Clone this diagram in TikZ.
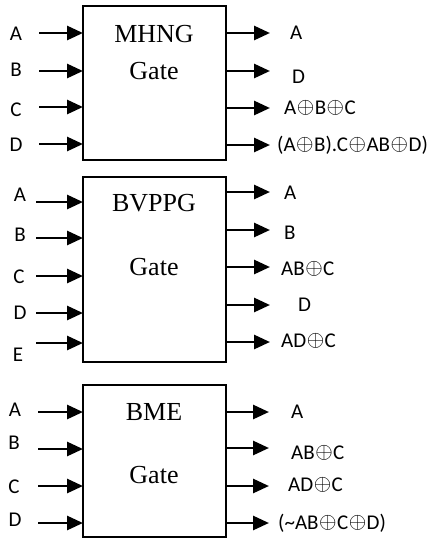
\documentclass[tikz,border=0pt]{standalone}
\usepackage{fontspec}
\usepackage{graphicx}
\usetikzlibrary{arrows.meta,positioning}
\newfontfamily\lblfont{Carlito}
\newfontfamily\ttlfont{Liberation Serif}
\newcommand{\xo}{\kern0.5pt\raisebox{1pt}{\fontsize{17.28}{17.28}\selectfont\scalebox{1.3}{$\oplus$}}\kern0.5pt}

\begin{document}
\begin{tikzpicture}[x=1pt, y=-1pt,
    gate/.style={rectangle, draw, line width=1.8pt, minimum width=143pt, inner sep=0pt, outer sep=0pt},
    title/.style={font=\ttlfont\fontsize{26}{26}\selectfont, inner sep=0pt},
    lbl/.style={font=\lblfont\fontsize{21}{21}\selectfont, inner sep=0pt, text height=13pt, text depth=0pt},
    olbl/.style={lbl, anchor=west},
    arr/.style={line width=2.8pt, -{Triangle[length=16pt,width=14pt]}}
]
    \useasboundingbox (0,0) rectangle (439,539);

    % MHNG gate
    \node[gate, minimum height=154pt] (g1) at (154.5,83) {};
    \node[title] (g1t) at (154,34) {MHNG};
    \node[title] (g1s) at (154,71) {Gate};

    \node[lbl] (g1a) at (16,34) {A};
    \node[lbl] (g1b) at (16,70) {B};
    \node[lbl] (g1c) at (16,110) {C};
    \node[lbl] (g1d) at (16,145) {D};
    \coordinate (g1i1) at (39,33);
    \coordinate (g1i2) at (39,71);
    \coordinate (g1i3) at (39,107);
    \coordinate (g1i4) at (39,144);
    \draw[arr] (g1i1) -- (g1i1 -| g1.west);
    \draw[arr] (g1i2) -- (g1i2 -| g1.west);
    \draw[arr] (g1i3) -- (g1i3 -| g1.west);
    \draw[arr] (g1i4) -- (g1i4 -| g1.west);

    \coordinate (g1o1) at (270,33);
    \coordinate (g1o2) at (270,71);
    \coordinate (g1o3) at (270,108);
    \coordinate (g1o4) at (270,145);
    \draw[arr] (g1o1 -| g1.east) -- (g1o1);
    \draw[arr] (g1o2 -| g1.east) -- (g1o2);
    \draw[arr] (g1o3 -| g1.east) -- (g1o3);
    \draw[arr] (g1o4 -| g1.east) -- (g1o4);
    \node[olbl] (g1y1) at (290,33) {A};
    \node[olbl] (g1y2) at (292,77) {D};
    \node[olbl] (g1y3) at (284,108) {A\xo B\xo C};
    \node[olbl] (g1y4) at (277,145) {(A\xo B).C\xo AB\xo D)};

    % BVPPG gate
    \node[gate, minimum height=185pt] (g2) at (154.5,269.5) {};
    \node[title] (g2t) at (154,203) {BVPPG};
    \node[title] (g2s) at (154,267) {Gate};

    \node[lbl] (g2a) at (20,195) {A};
    \node[lbl] (g2b) at (20,235) {B};
    \node[lbl] (g2c) at (19,277) {C};
    \node[lbl] (g2d) at (20,313) {D};
    \node[lbl] (g2e) at (18,355) {E};
    \coordinate (g2i1) at (36,202);
    \coordinate (g2i2) at (36,238);
    \coordinate (g2i3) at (36,276);
    \coordinate (g2i4) at (36,313);
    \coordinate (g2i5) at (36,343);
    \draw[arr] (g2i1) -- (g2i1 -| g2.west);
    \draw[arr] (g2i2) -- (g2i2 -| g2.west);
    \draw[arr] (g2i3) -- (g2i3 -| g2.west);
    \draw[arr] (g2i4) -- (g2i4 -| g2.west);
    \draw[arr] (g2i5) -- (g2i5 -| g2.west);

    \coordinate (g2o1) at (270,192);
    \coordinate (g2o2) at (270,230);
    \coordinate (g2o3) at (270,267);
    \coordinate (g2o4) at (270,305);
    \coordinate (g2o5) at (270,342);
    \draw[arr] (g2o1 -| g2.east) -- (g2o1);
    \draw[arr] (g2o2 -| g2.east) -- (g2o2);
    \draw[arr] (g2o3 -| g2.east) -- (g2o3);
    \draw[arr] (g2o4 -| g2.east) -- (g2o4);
    \draw[arr] (g2o5 -| g2.east) -- (g2o5);
    \node[olbl] (g2y1) at (284,193) {A};
    \node[olbl] (g2y2) at (284,233) {B};
    \node[olbl] (g2y3) at (281,269) {AB\xo C};
    \node[olbl] (g2y4) at (298,305) {D};
    \node[olbl] (g2y5) at (281,341) {AD\xo C};

    % BME gate
    \node[gate, minimum height=152pt] (g3) at (154.5,461) {};
    \node[title] (g3t) at (154,412) {BME};
    \node[title] (g3s) at (154,475) {Gate};

    \node[lbl] (g3a) at (15,410) {A};
    \node[lbl] (g3b) at (14,443) {B};
    \node[lbl] (g3c) at (14,487) {C};
    \node[lbl] (g3d) at (15,520) {D};
    \coordinate (g3i1) at (38,412);
    \coordinate (g3i2) at (38,449);
    \coordinate (g3i3) at (38,486);
    \coordinate (g3i4) at (38,523);
    \draw[arr] (g3i1) -- (g3i1 -| g3.west);
    \draw[arr] (g3i2) -- (g3i2 -| g3.west);
    \draw[arr] (g3i3) -- (g3i3 -| g3.west);
    \draw[arr] (g3i4) -- (g3i4 -| g3.west);

    \coordinate (g3o1) at (269,412);
    \coordinate (g3o2) at (269,448);
    \coordinate (g3o3) at (269,486);
    \coordinate (g3o4) at (269,523);
    \draw[arr] (g3o1 -| g3.east) -- (g3o1);
    \draw[arr] (g3o2 -| g3.east) -- (g3o2);
    \draw[arr] (g3o3 -| g3.east) -- (g3o3);
    \draw[arr] (g3o4 -| g3.east) -- (g3o4);
    \node[olbl] (g3y1) at (291,412) {A};
    \node[olbl] (g3y2) at (291,453) {AB\xo C};
    \node[olbl] (g3y3) at (288,485) {AD\xo C};
    \node[olbl] (g3y4) at (278,523) {(\textasciitilde AB\xo C\xo D)};
\end{tikzpicture}
\end{document}
